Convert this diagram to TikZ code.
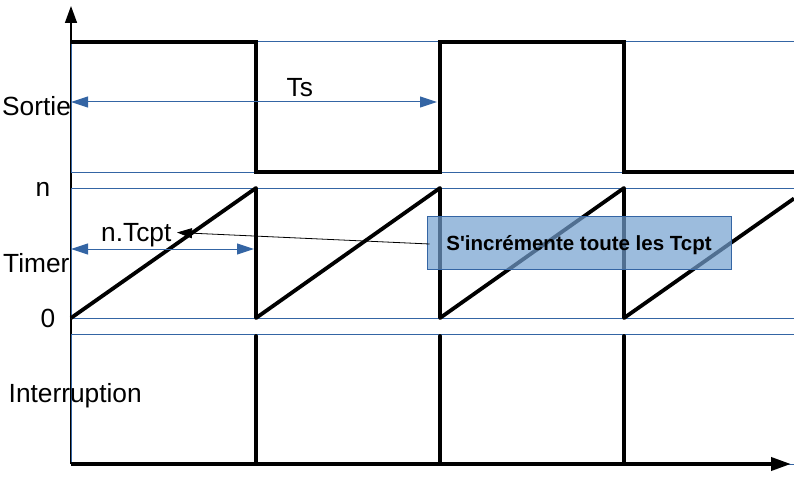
\documentclass[tikz,border=0pt]{standalone}
\usepackage{fontspec}
\setmainfont{Liberation Sans}[Ligatures=TeXOff]
\usetikzlibrary{arrows.meta}
\definecolor{lineblue}{HTML}{3465A4}
\definecolor{boxfill}{HTML}{729FCF}
\begin{document}
\begin{tikzpicture}[x=1pt,y=-1pt,
  sig/.style={line width=3.8pt},
  guide/.style={draw=lineblue, line width=1pt},
  dimarrow/.style={lineblue, line width=1pt, {Triangle[length=17pt,width=11pt]}-{Triangle[length=17pt,width=11pt]}},
  lbl/.style={inner sep=0pt, anchor=base west, font=\fontsize{26.3}{31}\selectfont},
  callout/.style={draw=lineblue, fill=boxfill, fill opacity=0.7, text opacity=1, line width=1pt,
    minimum width=304pt, minimum height=53pt, inner sep=0pt, text height=15pt, text depth=0pt,
    font=\fontsize{20.5}{24}\selectfont\bfseries}
]
\useasboundingbox (0,0) rectangle (794,484);

% vertical axis
\coordinate (origin) at (71,464);
\coordinate (ytip) at (71,6);
\coordinate (xtip) at (791,464);
\draw[line width=1.5pt, -{Triangle[length=17pt,width=12pt]}] (origin) -- (ytip);

% blue guide lines
\draw[guide] (794,42) -- (71,42) -- (71,172) -- (794,172);
\draw[guide] (794,188) -- (71,188) -- (71,318) -- (794,318);
\draw[guide] (794,334) -- (71,334) -- (71,464) -- (794,464);

% Sortie signal
\draw[sig] (71,42) -- (256,42) -- (256,172) -- (440,172) -- (440,42) -- (624,42) -- (624,172) -- (794,172);

% Timer signal
\draw[sig, line join=round] (71,318) -- (256,188) -- (256,318) -- (440,188) -- (440,318) -- (624,188) -- (624,318) -- (794,198.5);

% Interruption pulses
\draw[sig, line cap=round] (256,336) -- (256,464);
\draw[sig, line cap=round] (440,336) -- (440,464);
\draw[sig, line cap=round] (624,336) -- (624,464);

% horizontal axis
\draw[line width=3.8pt, -{Triangle[length=20pt,width=13pt]}] (origin) -- (xtip);

% dimension arrows
\coordinate (tsA) at (71,102);
\coordinate (tsB) at (437,102);
\draw[dimarrow] (tsA) -- (tsB);
\coordinate (ntA) at (71,249);
\coordinate (ntB) at (254,249);
\draw[dimarrow] (ntA) -- (ntB);

% labels
\node[lbl] (sortie) at (2,115) {Sortie};
\node[lbl] (nlab) at (35.5,196) {n};
\node[lbl] (timer) at (3,272) {Timer};
\node[lbl] (zero) at (40.5,327) {0};
\node[lbl] (interr) at (8.5,402.5) {Interruption};
\node[lbl] (ts) at (286.5,96) {Ts};
\node[lbl] (ntcpt) at (101,241) {n.Tcpt};

% callout
\node[callout] (box) at (579,242.5) {S'incrémente toute les Tcpt};
\coordinate (ptr) at (177,232.5);
\draw[line width=0.8pt, -{Triangle[length=15pt,width=10pt]}] ([xshift=3pt,yshift=-1.5pt]box.west) -- (ptr);
\end{tikzpicture}
\end{document}
